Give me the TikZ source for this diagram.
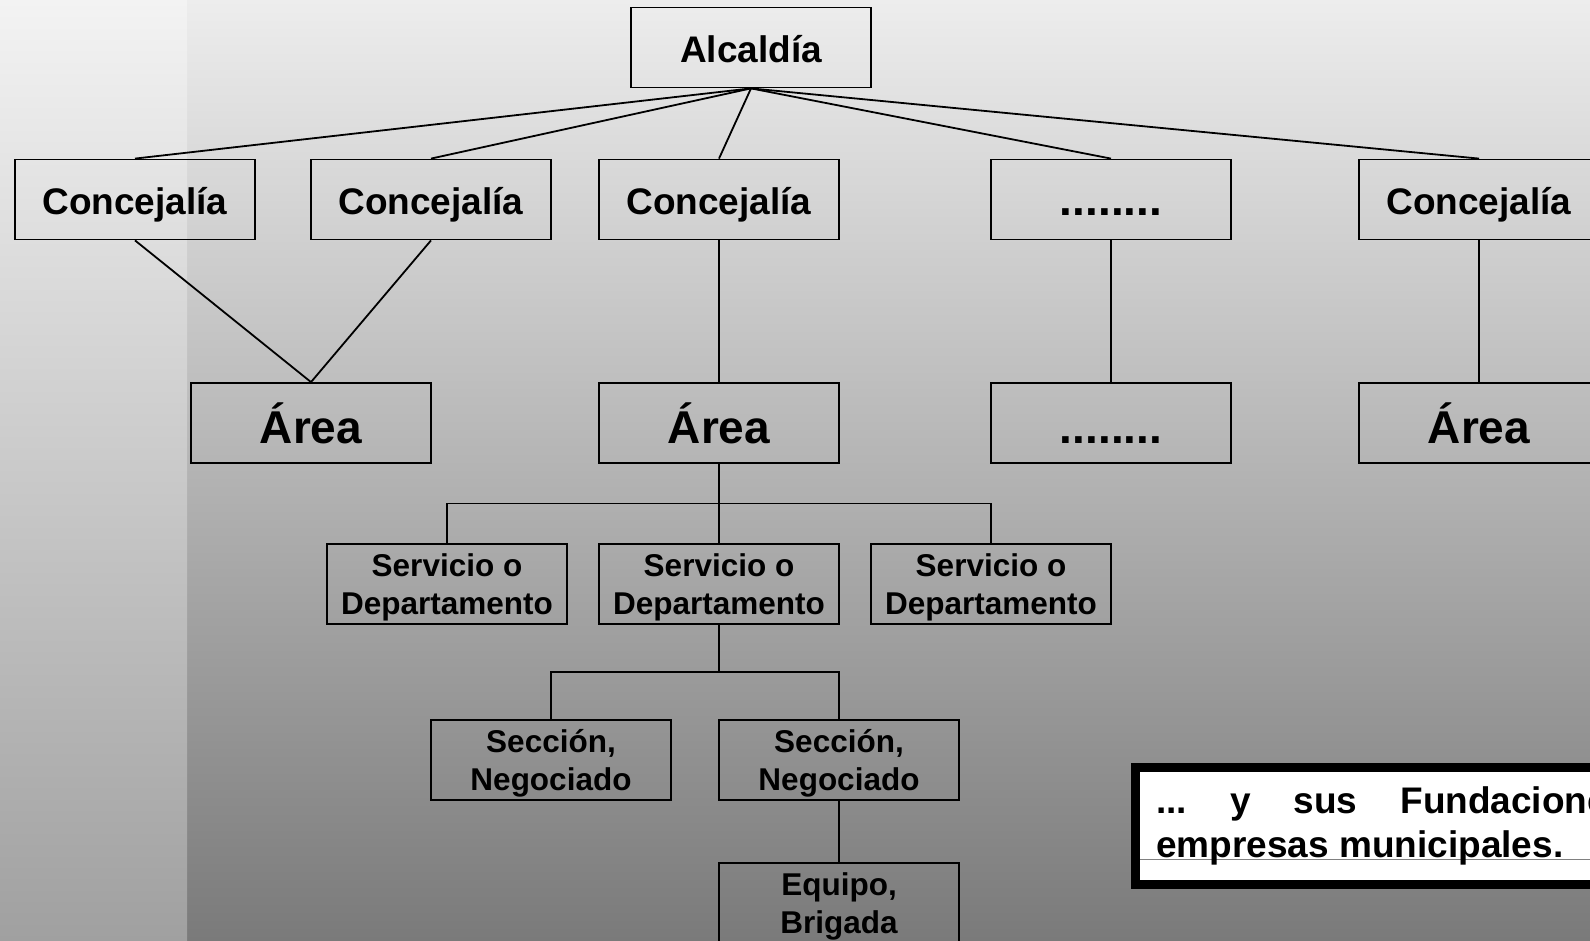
\documentclass[tikz,border=0pt]{standalone}
\usepackage{fontspec}
\setmainfont{Liberation Sans}
\usetikzlibrary{calc}
\definecolor{bgtop}{HTML}{EDEDED}
\definecolor{bgbot}{HTML}{7A7A7A}
\definecolor{striptop}{HTML}{F3F3F3}
\definecolor{stripbot}{HTML}{A0A0A0}
\definecolor{rulegray}{HTML}{808080}
\newcommand\topstrut{\rule{0pt}{30pt}}
\begin{document}
\begin{tikzpicture}[x=1pt,y=-1pt,
  basebox/.style={draw=black, line width=1.8pt, minimum width=240pt, minimum height=80pt,
    inner sep=0pt, align=center},
  box/.style={basebox, text height=31pt, text depth=0pt, font=\bfseries\fontsize{37}{44}\selectfont},
  bigbox/.style={basebox, text height=40pt, text depth=0pt, font=\bfseries\fontsize{46}{52}\selectfont},
  smallbox/.style={basebox, font=\bfseries\fontsize{31.5}{38}\selectfont},
  link/.style={draw=black, line width=1.8pt}]
\useasboundingbox (0,0) rectangle (1590,941);
\clip (0,0) rectangle (1590,941);
\shade[top color=bgtop, bottom color=bgbot] (0,0) rectangle (1590,941);
\shade[top color=striptop, bottom color=stripbot] (0,0) rectangle (187,941);

% top
\node[box] (alc) at (751,47.5) {Alcaldía};
% concejalias
\node[box] (c1) at (135,199.5) {Concejalía};
\node[box] (c2) at (431,199.5) {Concejalía};
\node[box] (c3) at (719,199.5) {Concejalía};
\node[bigbox, text height=33pt] (c4) at (1111,199.5) {........};
\node[box] (c5) at (1479,199.5) {Concejalía};
% areas
\node[bigbox] (a1) at (311,423) {Área};
\node[bigbox] (a2) at (719,423) {Área};
\node[bigbox] (a3) at (1111,423) {........};
\node[bigbox] (a5) at (1479,423) {Área};
% servicios
\node[smallbox] (s1) at (447,584) {\topstrut Servicio o\\Departamento};
\node[smallbox] (s2) at (719,584) {\topstrut Servicio o\\Departamento};
\node[smallbox] (s3) at (991,584) {\topstrut Servicio o\\Departamento};
% secciones
\node[smallbox] (n1) at (551,760) {\topstrut Sección,\\Negociado};
\node[smallbox] (n2) at (839,760) {\topstrut Sección,\\Negociado};
% equipo
\node[smallbox] (eq) at (839,903) {\topstrut Equipo,\\Brigada};

% connectors
\foreach \c in {c1,c2,c3,c4,c5} \draw[link] (alc.south) -- (\c.north);
\draw[link] (c1.south) -- (a1.north);
\draw[link] (c2.south) -- (a1.north);
\draw[link] (c3.south) -- (a2.north);
\draw[link] (c4.south) -- (a3.north);
\draw[link] (c5.south) -- (a5.north);
\coordinate (bus1) at ($(a2.south)!0.5!(s2.north)$);
\draw[link] (a2.south) -- (s2.north);
\draw[link] (s1.north) |- (bus1) -| (s3.north);
\coordinate (bus2) at ($(s2.south)!0.5!(s2.south|-n1.north)$);
\draw[link] (s2.south) -- (bus2);
\draw[link] (n1.north) |- (bus2) -| (n2.north);
\draw[link] (n2.south) -- (eq.north);

% note box
\draw[line width=9pt, fill=white] (1135.5,767.5) rectangle (1720,884.5);
\draw[rulegray, line width=1pt] (1140,859) -- (1600,859);
\node[anchor=base west, inner sep=0pt, font=\bfseries\fontsize{37}{44}\selectfont] (nota) at (1156,813)
  {\parbox[t]{536pt}{\frenchspacing\tolerance=10000\hbadness=10000\hyphenpenalty=10000 ... y sus Fundaciones y\linebreak empresas municipales.}};
\end{tikzpicture}
\end{document}
